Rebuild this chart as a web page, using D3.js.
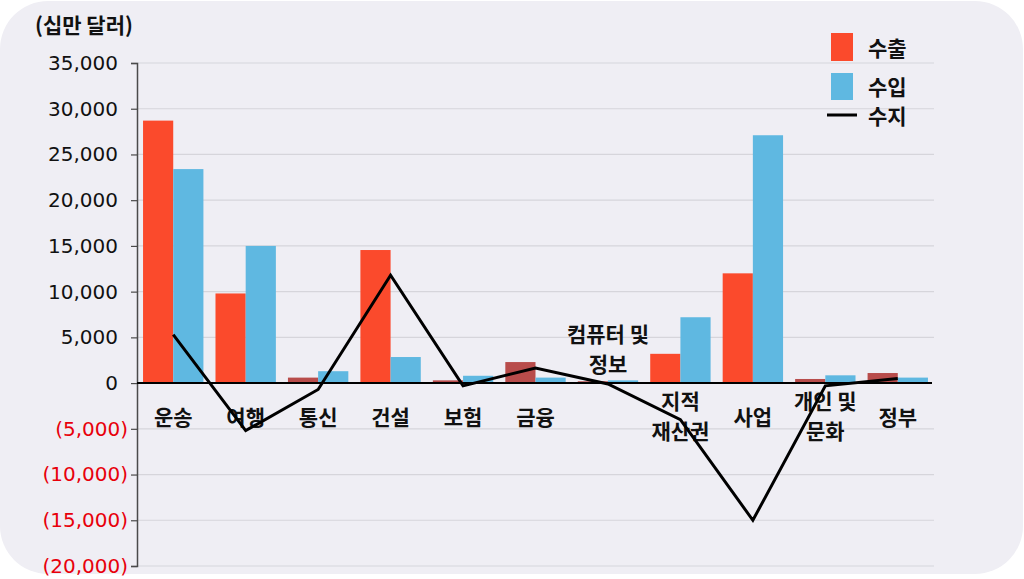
<!DOCTYPE html>
<html>
<head>
<meta charset="utf-8">
<script src="https://cdn.jsdelivr.net/npm/d3@7/dist/d3.min.js"></script>
<style>
  html, body { margin: 0; padding: 0; background: #ffffff; }
  svg { display: block; }
</style>
</head>
<body>
<svg id="chart" width="1024" height="579"></svg>
<script>
// ---- data ----
const categories = ["운송", "여행", "통신", "건설", "보험", "금융", "컴퓨터 및 정보", "지적 재산권", "사업", "개인 및 문화", "정부"];
const categoryLines = [["운송"], ["여행"], ["통신"], ["건설"], ["보험"], ["금융"], ["컴퓨터 및", "정보"], ["지적", "재산권"], ["사업"], ["개인 및", "문화"], ["정부"]];
const exportValues = [28700, 9800, 600, 14550, 300, 2300, 200, 3200, 12000, 450, 1100];
const importValues = [23400, 15000, 1300, 2850, 800, 600, 300, 7200, 27100, 850, 600];
const balanceValues = [5300, -5200, -700, 11800, -300, 1650, -100, -4000, -15000, -300, 500];
const yTicks = [-20000, -15000, -10000, -5000, 0, 5000, 10000, 15000, 20000, 25000, 30000, 35000];
const unitLabel = "(십만 달러)";
const legendLabels = ["수출", "수입", "수지"];
const mutedExportCategories = ["통신", "보험", "금융", "컴퓨터 및 정보", "개인 및 문화", "정부"];

// ---- styles ----
const C_EXPORT = "#fb4a2c";
const C_EXPORT_MUTED = "#b84c4b";
const C_IMPORT = "#5fb8e1";
const C_BG = "#efeef4";
const C_GRID = "#d6d5db";
const KFONT = "'Noto Sans CJK KR', 'Noto Sans', sans-serif";
const NFONT = "'DejaVu Sans', Verdana, sans-serif";
const KSIZE = 21;
const KWEIGHT = 700;
const LINE_GAP = 30;

(function () {
const svg = d3.select("#chart");
const W = 1024, H = 579;

svg.append("rect").attr("x", 0).attr("y", 1).attr("width", W - 1).attr("height", H - 6)
  .attr("rx", 48).attr("ry", 48).attr("fill", C_BG);

const pLeft = 137, pRight = 934, pTop = 63, pBottom = 566;

const x = d3.scaleBand().domain(categories).range([pLeft, pRight]).paddingInner(0).paddingOuter(0);
const xs = d3.scaleBand().domain(["exp", "imp"]).range([0, x.bandwidth()]).paddingInner(0).paddingOuter(0.2);
const y = d3.scaleLinear().domain([-20000, 35000]).range([pBottom, pTop]);

// gridlines
svg.append("g").selectAll("line").data(yTicks.filter(v => v !== 0)).join("line")
  .attr("x1", pLeft).attr("x2", pRight)
  .attr("y1", d => y(d)).attr("y2", d => y(d))
  .attr("stroke", C_GRID).attr("stroke-width", 1.2);

// y axis
const yAxis = d3.axisLeft(y).tickValues(yTicks).tickSize(6).tickPadding(3)
  .tickFormat(d => d < 0 ? "(" + d3.format(",")(-d) + ")" : d3.format(",")(d));
const gy = svg.append("g").attr("transform", `translate(${pLeft},0)`).call(yAxis);
gy.select(".domain").attr("stroke", "#4a4a4a").attr("stroke-width", 1.5);
gy.selectAll(".tick line").attr("stroke", "#4a4a4a").attr("stroke-width", 1.2);
gy.selectAll(".tick text")
  .attr("font-family", NFONT).attr("font-size", 20)
  .attr("dx", d => d < 0 ? 0 : -10)
  .attr("fill", d => d < 0 ? "#e8000b" : "#111");

// unit label
svg.append("text").attr("x", 35).attr("y", 24).attr("dominant-baseline", "central")
  .attr("font-family", KFONT).attr("font-size", KSIZE).attr("font-weight", KWEIGHT).attr("fill", "#111")
  .text(unitLabel);

// bars
const bars = svg.append("g");
bars.selectAll("rect.exp").data(categories).join("rect").attr("class", "exp")
  .attr("x", (d) => x(d) + xs("exp"))
  .attr("width", xs.bandwidth())
  .attr("y", (d, i) => y(Math.max(0, exportValues[i])))
  .attr("height", (d, i) => Math.abs(y(exportValues[i]) - y(0)))
  .attr("fill", d => mutedExportCategories.includes(d) ? C_EXPORT_MUTED : C_EXPORT);
bars.selectAll("rect.imp").data(categories).join("rect").attr("class", "imp")
  .attr("x", (d) => x(d) + xs("imp"))
  .attr("width", xs.bandwidth())
  .attr("y", (d, i) => y(Math.max(0, importValues[i])))
  .attr("height", (d, i) => Math.abs(y(importValues[i]) - y(0)))
  .attr("fill", C_IMPORT);

// zero line
svg.append("line").attr("x1", pLeft).attr("x2", pRight - 2).attr("y1", y(0)).attr("y2", y(0))
  .attr("stroke", "#000").attr("stroke-width", 2);

// category labels
const labelG = svg.append("g").attr("font-family", KFONT).attr("font-size", KSIZE)
  .attr("font-weight", KWEIGHT).attr("fill", "#111").attr("text-anchor", "middle");
categories.forEach((c, i) => {
  const lines = categoryLines[i];
  const cx = x(c) + x.bandwidth() / 2;
  let y0;
  if (lines.length === 1) y0 = y(0) + 33;
  else if (c === "컴퓨터 및 정보") y0 = y(0) - 50;
  else y0 = y(0) + 17;
  lines.forEach((s, k) => {
    labelG.append("text").attr("x", cx).attr("y", y0 + k * LINE_GAP)
      .attr("dominant-baseline", "central").text(s);
  });
});

// balance line
const line = d3.line().x((d, i) => x(categories[i]) + x.bandwidth() / 2).y(d => y(d));
svg.append("path").datum(balanceValues).attr("d", line)
  .attr("fill", "none").attr("stroke", "#000").attr("stroke-width", 3).attr("stroke-linejoin", "miter");

// legend
const lg = svg.append("g");
lg.append("rect").attr("x", 831).attr("y", 33).attr("width", 22).attr("height", 28).attr("fill", C_EXPORT);
lg.append("rect").attr("x", 831).attr("y", 73).attr("width", 22).attr("height", 27).attr("fill", C_IMPORT);
lg.append("line").attr("x1", 827).attr("x2", 857).attr("y1", 115).attr("y2", 115).attr("stroke", "#000").attr("stroke-width", 3);
[47, 86, 115].forEach((yy, i) => {
  lg.append("text").attr("x", 868).attr("y", yy).attr("dominant-baseline", "central")
    .attr("font-family", KFONT).attr("font-size", KSIZE).attr("font-weight", KWEIGHT).attr("fill", "#111")
    .text(legendLabels[i]);
});
})();
</script>
</body>
</html>
